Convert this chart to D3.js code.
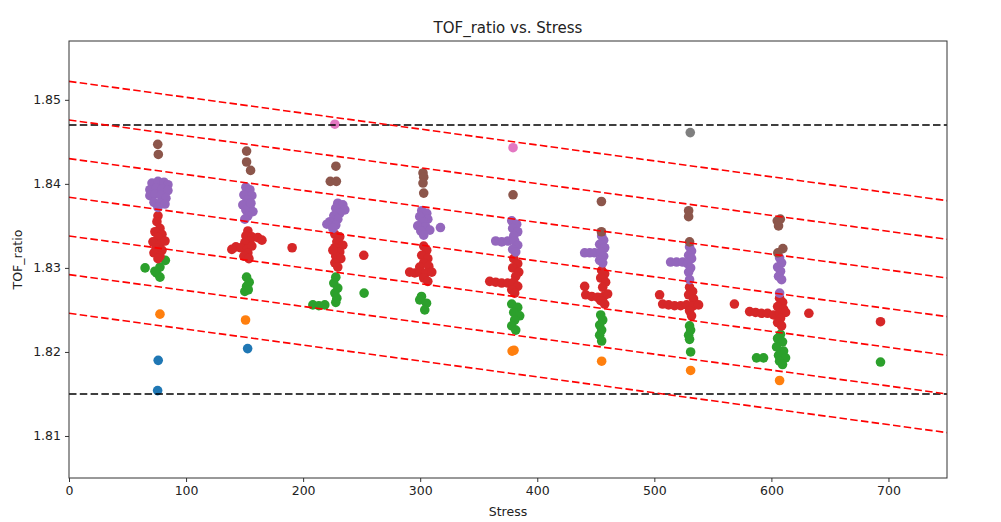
<!DOCTYPE html>
<html>
<head>
<meta charset="utf-8">
<script src="https://cdn.jsdelivr.net/npm/d3@7"></script>
<style>
  body { margin: 0; background: #fff; }
  text { font-family: "DejaVu Sans", sans-serif; fill: #222; }
</style>
</head>
<body>
<div id="chart"></div>
<script>
// axis ticks
var stressTicks = [0, 100, 200, 300, 400, 500, 600, 700];
var tofTicks = [1.81, 1.82, 1.83, 1.84, 1.85];

// dashed reference lines
var limitLevels = [1.815, 1.847];
var bandIntercepts = [1.8522, 1.8476, 1.8430, 1.8384, 1.8338, 1.8292, 1.8246];
var bandSlope = -1.893e-5;

// scatter groups [stress, TOF_ratio], in plotting order
var blueGroup = [[76.2, 1.8190], [75.7, 1.8154], [152.6, 1.8204]];

var orangeGroup = [[77.7, 1.8245], [150.8, 1.8238], [380.1, 1.8202], [378.5, 1.8201],
  [455.0, 1.8189], [531.0, 1.8178], [607.0, 1.8166]];

var greenGroup = [
  [65.0, 1.8300], [82.3, 1.8309], [77.7, 1.8301], [74.8, 1.8294], [77.7, 1.8289], [73.4, 1.8296],
  [151.7, 1.8289], [153.9, 1.8283], [151.7, 1.8278], [150.2, 1.8272], [153.1, 1.8274],
  [227.9, 1.8289], [226.2, 1.8282], [229.6, 1.8276], [227.1, 1.8270], [228.8, 1.8264], [227.9, 1.8259],
  [208.3, 1.8256], [213.4, 1.8255], [218.5, 1.8256], [252.1, 1.8270],
  [301.1, 1.8266], [299.6, 1.8262], [305.4, 1.8258], [303.9, 1.8250],
  [378.2, 1.8257], [383.3, 1.8253], [379.9, 1.8247], [385.0, 1.8243], [380.7, 1.8238], [378.2, 1.8231], [381.6, 1.8226],
  [454.2, 1.8244], [455.9, 1.8238], [453.3, 1.8232], [455.0, 1.8226], [453.3, 1.8220], [455.0, 1.8213],
  [530.1, 1.8231], [531.0, 1.8226], [529.3, 1.8220], [530.1, 1.8215], [531.0, 1.8200],
  [607.8, 1.8221], [605.3, 1.8216], [609.5, 1.8212], [604.4, 1.8206], [610.4, 1.8201], [606.1, 1.8196],
  [612.1, 1.8193], [607.0, 1.8189], [609.5, 1.8185], [587.3, 1.8193], [593.3, 1.8193],
  [693.2, 1.8188]];

var redGroup = [
  [76.0, 1.8362], [75.1, 1.8355], [77.7, 1.8347], [73.4, 1.8343], [79.4, 1.8340], [76.0, 1.8336], [71.7, 1.8331],
  [77.7, 1.8328], [82.0, 1.8332], [74.3, 1.8324], [79.4, 1.8321], [72.6, 1.8318], [77.7, 1.8314], [76.0, 1.8311],
  [152.8, 1.8344], [151.1, 1.8338], [156.2, 1.8337], [161.3, 1.8336], [164.8, 1.8333], [154.5, 1.8332],
  [150.2, 1.8330], [142.6, 1.8325], [146.8, 1.8324], [139.1, 1.8322], [152.0, 1.8322], [156.2, 1.8326],
  [152.8, 1.8318], [149.4, 1.8314], [153.7, 1.8311], [190.6, 1.8324],
  [227.1, 1.8340], [231.3, 1.8337], [228.8, 1.8331], [233.9, 1.8327], [227.1, 1.8324], [231.3, 1.8319],
  [227.9, 1.8314], [232.2, 1.8311], [227.1, 1.8306], [229.6, 1.8301], [225.4, 1.8321], [251.8, 1.8315],
  [303.0, 1.8326], [305.6, 1.8321], [301.3, 1.8315], [306.5, 1.8311], [303.0, 1.8306], [299.6, 1.8301],
  [307.3, 1.8302], [291.0, 1.8295], [295.4, 1.8294], [299.6, 1.8295], [304.7, 1.8294], [309.9, 1.8295],
  [303.0, 1.8288], [306.5, 1.8284],
  [379.9, 1.8311], [383.3, 1.8305], [379.0, 1.8300], [384.2, 1.8295], [381.6, 1.8290], [359.4, 1.8284],
  [364.5, 1.8283], [369.6, 1.8282], [374.8, 1.8282], [379.9, 1.8283], [383.3, 1.8278], [378.2, 1.8274], [380.7, 1.8270],
  [455.0, 1.8297], [457.6, 1.8293], [454.2, 1.8288], [458.4, 1.8283], [440.5, 1.8278], [455.9, 1.8277],
  [441.4, 1.8268], [446.5, 1.8266], [451.6, 1.8265], [456.7, 1.8266], [460.1, 1.8269], [454.2, 1.8261], [457.6, 1.8257],
  [530.1, 1.8277], [532.7, 1.8272], [529.3, 1.8268], [504.5, 1.8268], [533.5, 1.8263], [507.1, 1.8257],
  [512.2, 1.8256], [517.3, 1.8255], [522.5, 1.8255], [527.6, 1.8256], [533.5, 1.8255], [537.8, 1.8256],
  [530.1, 1.8249], [531.8, 1.8243], [568.4, 1.8257],
  [607.0, 1.8264], [609.6, 1.8259], [605.3, 1.8254], [610.4, 1.8251], [581.4, 1.8248], [586.5, 1.8247],
  [591.6, 1.8246], [596.7, 1.8246], [601.9, 1.8244], [607.0, 1.8246], [612.1, 1.8247], [607.8, 1.8240],
  [605.3, 1.8235], [608.7, 1.8231], [632.0, 1.8246], [693.2, 1.8236]];

var purpleGroup = [
  [70.9, 1.8401], [76.0, 1.8403], [81.1, 1.8402], [84.5, 1.8399], [69.1, 1.8393], [74.3, 1.8395], [79.4, 1.8394],
  [84.5, 1.8392], [69.1, 1.8386], [73.4, 1.8388], [78.5, 1.8386], [82.8, 1.8383], [72.6, 1.8378], [77.7, 1.8377],
  [76.0, 1.8372], [82.0, 1.8376],
  [151.1, 1.8396], [154.5, 1.8393], [149.4, 1.8387], [156.2, 1.8386], [152.0, 1.8381], [148.5, 1.8375],
  [154.5, 1.8374], [151.1, 1.8369], [157.1, 1.8367], [152.8, 1.8362], [150.2, 1.8358], [155.4, 1.8377],
  [229.6, 1.8377], [233.9, 1.8375], [227.9, 1.8371], [235.6, 1.8369], [231.3, 1.8365], [226.2, 1.8362],
  [229.6, 1.8358], [222.8, 1.8355], [220.3, 1.8352], [227.9, 1.8351], [225.4, 1.8347],
  [301.3, 1.8368], [305.6, 1.8365], [299.6, 1.8361], [306.5, 1.8358], [302.2, 1.8355], [297.9, 1.8350],
  [304.7, 1.8349], [300.5, 1.8344], [308.2, 1.8345], [303.0, 1.8339], [317.3, 1.8348],
  [378.2, 1.8356], [382.4, 1.8352], [379.0, 1.8347], [383.3, 1.8343], [379.9, 1.8338], [364.5, 1.8332],
  [369.6, 1.8331], [374.8, 1.8332], [380.7, 1.8332], [383.3, 1.8327], [379.0, 1.8322], [381.6, 1.8319],
  [455.0, 1.8338], [456.7, 1.8333], [453.3, 1.8328], [457.6, 1.8324], [440.5, 1.8318], [444.8, 1.8318],
  [449.0, 1.8318], [454.2, 1.8319], [456.7, 1.8314], [453.3, 1.8309], [455.9, 1.8306],
  [530.1, 1.8325], [531.8, 1.8320], [529.3, 1.8315], [531.8, 1.8311], [513.9, 1.8307], [519.0, 1.8307],
  [524.2, 1.8307], [528.4, 1.8305], [531.0, 1.8300], [529.3, 1.8295], [530.1, 1.8286],
  [607.0, 1.8312], [608.7, 1.8306], [605.3, 1.8301], [607.8, 1.8296], [606.1, 1.8290], [608.7, 1.8286], [607.0, 1.8270]];

var brownGroup = [[75.8, 1.8447], [76.3, 1.8435],
  [151.7, 1.8439], [151.7, 1.8426], [155.1, 1.8416],
  [228.0, 1.8421], [223.2, 1.8403], [228.4, 1.8403],
  [302.4, 1.8413], [303.0, 1.8408], [302.4, 1.8401], [303.0, 1.8389],
  [379.3, 1.8387],
  [454.8, 1.8379], [454.8, 1.8343],
  [529.3, 1.8368], [529.3, 1.8361], [530.1, 1.8331],
  [605.0, 1.8356], [607.6, 1.8358], [606.1, 1.8350], [609.8, 1.8323], [605.5, 1.8318]];

var pinkGroup = [[227.1, 1.8471], [379.3, 1.8443]];
var grayGroup = [[530.7, 1.8461]];

var groupList = [blueGroup, orangeGroup, greenGroup, redGroup, purpleGroup, brownGroup, pinkGroup, grayGroup];
var groupColors = ["#1f77b4", "#ff7f0e", "#2ca02c", "#d62728", "#9467bd", "#8c564b", "#e377c2", "#7f7f7f"];

var width = 1001, height = 522;
var margin = {left: 69, right: 54, top: 41, bottom: 44};

var svg = d3.select("#chart").append("svg")
    .attr("width", width).attr("height", height);

var x = d3.scaleLinear().domain([0, 750]).range([margin.left, width - margin.right]);
var y = d3.scaleLinear().domain([1.805, 1.857]).range([height - margin.bottom, margin.top]);

var plot = svg.append("g");

// clip so points / lines stay in the axes box
svg.append("defs").append("clipPath").attr("id", "clip")
    .append("rect")
    .attr("x", x(0)).attr("y", y(1.857))
    .attr("width", x(750) - x(0)).attr("height", y(1.805) - y(1.857));

var inner = plot.append("g").attr("clip-path", "url(#clip)");

// scatter, group by group
groupList.forEach(function(pts, i) {
    inner.append("g").selectAll("circle")
        .data(pts)
        .enter().append("circle")
        .attr("cx", function(d) { return x(d[0]); })
        .attr("cy", function(d) { return y(d[1]); })
        .attr("r", 4.8)
        .attr("fill", groupColors[i]);
});

// black limit lines
inner.selectAll("line.limit")
    .data(limitLevels)
    .enter().append("line")
    .attr("class", "limit")
    .attr("x1", x(0)).attr("x2", x(750))
    .attr("y1", function(d) { return y(d); })
    .attr("y2", function(d) { return y(d); })
    .attr("stroke", "black")
    .attr("stroke-width", 1.6)
    .attr("stroke-dasharray", "7.5,3.3");

// red sloped band lines
inner.selectAll("line.band")
    .data(bandIntercepts)
    .enter().append("line")
    .attr("class", "band")
    .attr("x1", x(0)).attr("x2", x(750))
    .attr("y1", function(d) { return y(d); })
    .attr("y2", function(d) { return y(d + bandSlope * 750); })
    .attr("stroke", "red")
    .attr("stroke-width", 1.6)
    .attr("stroke-dasharray", "7.5,3.3");

// axes
var xAxis = d3.axisBottom(x).tickValues(stressTicks).tickSize(4).tickPadding(4)
    .tickFormat(d3.format("d"));
var yAxis = d3.axisLeft(y).tickValues(tofTicks).tickSize(4).tickPadding(4)
    .tickFormat(d3.format(".2f"));

var gx = svg.append("g").attr("transform", "translate(0," + (height - margin.bottom) + ")").call(xAxis);
var gy = svg.append("g").attr("transform", "translate(" + margin.left + ",0)").call(yAxis);
[gx, gy].forEach(function(g) {
    g.select(".domain").remove();
    g.selectAll(".tick line").attr("stroke", "#333");
    g.selectAll(".tick text").style("font-size", "12.5px").attr("fill", "#222");
});

// frame
svg.append("rect")
    .attr("x", x(0)).attr("y", y(1.857))
    .attr("width", x(750) - x(0)).attr("height", y(1.805) - y(1.857))
    .attr("fill", "none").attr("stroke", "#333").attr("stroke-width", 1);

// titles
svg.append("text")
    .attr("x", (x(0) + x(750)) / 2).attr("y", 33)
    .attr("text-anchor", "middle").style("font-size", "15px")
    .text("TOF_ratio vs. Stress");

svg.append("text")
    .attr("x", (x(0) + x(750)) / 2).attr("y", 516)
    .attr("text-anchor", "middle").style("font-size", "12.5px")
    .text("Stress");

svg.append("text")
    .attr("transform", "translate(22," + ((y(1.805) + y(1.857)) / 2) + ") rotate(-90)")
    .attr("text-anchor", "middle").style("font-size", "12.5px")
    .text("TOF_ratio");
</script>
</body>
</html>
